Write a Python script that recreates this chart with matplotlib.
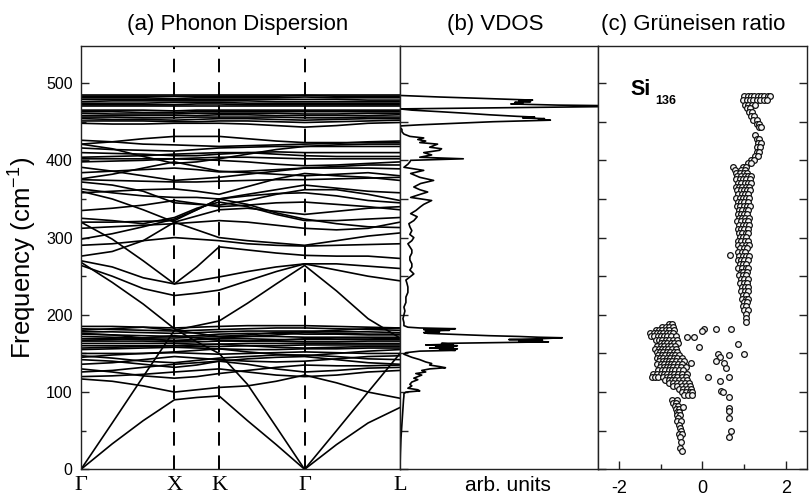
import matplotlib.pyplot as plt
from matplotlib.ticker import MultipleLocator, FixedLocator

plt.rcParams['font.family'] = ['Liberation Sans', 'DejaVu Sans']
plt.rcParams['mathtext.fontset'] = 'custom'
plt.rcParams['mathtext.rm'] = 'Liberation Sans'
plt.rcParams['axes.unicode_minus'] = False

# sample points along the Gamma-X-K-Gamma-L path
kpath = [0, 0.098, 0.195, 0.293, 0.363, 0.433, 0.522, 0.612, 0.701, 0.801, 0.900, 1.0]
sym_pos = [0, 0.293, 0.433, 0.701, 1.0]
sym_labels = ['Γ', 'X', 'K', 'Γ', 'L']

# phonon branches (cm-1) at each kpath point
acoustic = [
    [0, 33, 63, 90, 93, 95, 63, 32, 0, 32, 60, 80],
    [0, 60, 120, 180, 186, 192, 215, 240, 264, 231, 195, 170],
    [268, 242, 214, 182, 165, 150, 110, 55, 0, 50, 100, 150],
]
low_optic = [
    [117, 114, 108, 100, 103, 106, 108, 114, 122, 112, 100, 92],
    [120, 121, 123, 126, 128, 130, 126, 122, 120, 122, 126, 128],
    [126, 128, 132, 136, 138, 140, 136, 130, 126, 128, 131, 132],
    [130, 126, 121, 118, 120, 124, 128, 132, 135, 134, 134, 135],
    [142, 140, 136, 132, 135, 140, 143, 145, 146, 142, 138, 136],
    [147, 144, 140, 138, 141, 144, 146, 148, 148, 146, 143, 142],
    [150, 150, 150, 151, 150, 149, 150, 151, 152, 151, 150, 150],
    [145, 148, 150, 152, 154, 156, 152, 149, 147, 150, 153, 155],
    [136, 138, 142, 146, 144, 142, 140, 139, 140, 143, 146, 147],
]
dense_low = [
    [185, 185, 184, 183, 184, 185, 186, 186, 186, 185, 184, 183],
    [182, 181, 180, 179, 180, 181, 182, 183, 183, 182, 181, 180],
    [178, 178, 177, 176, 177, 178, 179, 179, 179, 178, 178, 177],
    [175, 174, 173, 172, 173, 175, 176, 176, 175, 175, 174, 174],
    [172, 171, 170, 170, 171, 172, 172, 172, 171, 171, 171, 171],
    [169, 169, 168, 167, 168, 169, 169, 168, 168, 168, 168, 168],
    [166, 166, 166, 165, 165, 166, 166, 166, 165, 165, 166, 166],
    [163, 163, 163, 163, 162, 162, 163, 163, 163, 163, 163, 163],
    [160, 160, 160, 160, 159, 159, 160, 160, 161, 161, 161, 161],
    [157, 158, 159, 160, 161, 162, 160, 158, 157, 158, 159, 159],
    [176, 174, 170, 166, 168, 170, 172, 174, 177, 176, 175, 175],
    [180, 182, 184, 180, 176, 172, 174, 177, 178, 180, 182, 183],
    [155, 156, 157, 158, 157, 156, 155, 155, 156, 156, 157, 157],
    [167, 168, 170, 173, 170, 167, 166, 167, 169, 170, 170, 169],
]
mid = [
    [270, 262, 248, 240, 244, 249, 256, 262, 266, 258, 250, 244],
    [264, 250, 234, 225, 228, 232, 244, 256, 266, 266, 263, 260],
    [320, 298, 270, 240, 262, 288, 284, 280, 277, 276, 276, 273],
    [290, 292, 296, 300, 298, 296, 292, 290, 289, 290, 291, 292],
    [276, 282, 296, 320, 310, 300, 296, 293, 290, 296, 302, 306],
]
upper_mid = [
    [298, 305, 314, 324, 336, 350, 343, 332, 324, 318, 314, 313],
    [320, 320, 321, 322, 336, 350, 354, 357, 358, 354, 348, 345],
    [325, 322, 318, 326, 338, 346, 340, 330, 322, 322, 324, 326],
    [360, 350, 336, 320, 328, 336, 338, 334, 330, 334, 338, 340],
    [363, 358, 354, 352, 352, 350, 356, 362, 368, 364, 360, 358],
    [358, 360, 362, 363, 360, 356, 366, 376, 383, 380, 378, 374],
    [372, 368, 360, 345, 343, 342, 348, 356, 362, 362, 356, 348],
    [376, 382, 390, 398, 392, 386, 384, 382, 380, 382, 384, 380],
    [391, 386, 380, 374, 376, 378, 382, 386, 390, 390, 390, 389],
    [398, 399, 400, 402, 401, 400, 398, 395, 393, 394, 396, 398],
    [402, 402, 402, 402, 403, 404, 404, 403, 402, 402, 402, 402],
    [404, 405, 406, 408, 409, 410, 410, 408, 406, 405, 405, 405],
    [410, 409, 408, 406, 406, 408, 410, 411, 410, 410, 410, 410],
    [416, 414, 413, 412, 414, 416, 417, 418, 418, 418, 418, 418],
    [421, 424, 428, 431, 431, 431, 428, 425, 423, 423, 423, 423],
    [421, 415, 405, 396, 398, 402, 408, 414, 418, 420, 421, 421],
    [426, 424, 421, 420, 419, 418, 419, 420, 421, 422, 424, 425],
    [375, 374, 373, 372, 372, 373, 374, 375, 375, 376, 377, 378],
    [335, 338, 342, 348, 344, 340, 342, 345, 346, 343, 340, 336],
    [384, 386, 388, 390, 388, 385, 386, 388, 390, 392, 394, 394],
    [312, 314, 316, 318, 320, 322, 320, 316, 312, 310, 312, 320],
]
dense_high = [
    [448, 447, 447, 448, 448, 448, 447, 445, 443, 445, 448, 449],
    [451, 451, 451, 450, 450, 451, 451, 450, 449, 450, 451, 452],
    [454, 453, 453, 452, 453, 454, 454, 453, 452, 453, 454, 454],
    [456, 456, 455, 455, 456, 456, 456, 456, 455, 455, 456, 456],
    [458, 458, 458, 458, 458, 459, 459, 458, 458, 458, 458, 459],
    [461, 460, 460, 460, 461, 461, 461, 461, 460, 460, 461, 461],
    [463, 463, 462, 462, 463, 463, 463, 463, 463, 463, 463, 463],
    [465, 465, 465, 464, 465, 465, 465, 465, 465, 465, 465, 465],
    [470, 470, 470, 470, 470, 470, 470, 470, 470, 470, 470, 470],
    [472, 472, 472, 472, 473, 473, 472, 472, 472, 472, 472, 472],
    [474, 474, 474, 475, 475, 475, 474, 474, 474, 474, 474, 474],
    [476, 477, 477, 477, 477, 477, 477, 476, 476, 476, 476, 476],
    [479, 479, 479, 479, 479, 479, 479, 479, 479, 479, 478, 478],
    [481, 481, 481, 480, 481, 481, 481, 481, 482, 481, 481, 481],
    [483, 483, 483, 483, 483, 483, 483, 483, 484, 483, 483, 483],
    [485, 485, 485, 485, 485, 485, 485, 485, 485, 485, 485, 485],
]

# vibrational density of states: (frequency, arb. units)
vdos_pts = [
    (0, 0), (20, 0.002), (40, 0.005), (60, 0.01), (75, 0.014), (90, 0.018),
    (95, 0.02), (98, 0.02), (100, 0.03), (101.5, 0.1), (103, 0.09), (105, 0.04),
    (108, 0.06), (110, 0.05), (113, 0.06), (116, 0.09), (118, 0.07), (120, 0.09),
    (122, 0.11), (124, 0.08), (126, 0.13), (128, 0.11), (130, 0.15), (131.5, 0.23),
    (133, 0.2), (135, 0.15), (137, 0.16), (139, 0.13), (142, 0.1), (145, 0.06),
    (147, 0.04), (149, 0.02), (151, 0.03), (153, 0.1), (154, 0.28), (155, 0.2),
    (156, 0.29), (157, 0.15), (158, 0.27), (159, 0.18), (160, 0.29), (161, 0.13),
    (162, 0.27), (163, 0.21), (164, 0.5), (165, 0.75), (166, 0.6), (167, 0.72),
    (168, 0.55), (169, 0.7), (170.3, 0.82), (171, 0.7), (172, 0.6), (173, 0.45),
    (174, 0.35), (175, 0.25), (176, 0.14), (177, 0.12), (178, 0.2), (179, 0.13),
    (180, 0.25), (181, 0.12), (182, 0.28), (183, 0.1), (184, 0.04), (186, 0.02),
    (190, 0.02), (195, 0.015), (200, 0.02), (205, 0.025), (210, 0.02), (216, 0.03),
    (223, 0.03), (229, 0.04), (236, 0.04), (241, 0.035), (245, 0.03), (249, 0.05),
    (253, 0.07), (258, 0.05), (262, 0.06), (266, 0.06), (271, 0.05), (275, 0.05),
    (280, 0.06), (284, 0.06), (288, 0.05), (292, 0.04), (296, 0.06), (300, 0.07),
    (304, 0.05), (309, 0.06), (314, 0.05), (318, 0.045), (322, 0.07), (327, 0.087),
    (331, 0.054), (335, 0.08), (340, 0.104), (343, 0.12), (348, 0.16), (352, 0.054),
    (355, 0.09), (359, 0.14), (362, 0.1), (365.5, 0.07), (370, 0.104), (374, 0.17),
    (378, 0.1), (383, 0.054), (387, 0.12), (391, 0.02), (395, 0.04), (398, 0.05),
    (400, 0.054), (402, 0.32), (404, 0.1), (407, 0.16), (410, 0.12), (413, 0.2),
    (415, 0.21), (417, 0.15), (419, 0.17), (421, 0.19), (423, 0.1), (425, 0.13),
    (427, 0.09), (429, 0.12), (431, 0.05), (434, 0.02), (437, 0.01), (440, 0.01),
    (443, 0.0), (444.6, 0.005), (446, 0.1), (448, 0.28), (450, 0.47), (452, 0.76),
    (453, 0.7), (454, 0.73), (455, 0.62), (456, 0.68), (457, 0.59), (459, 0.45),
    (461, 0.33), (463, 0.2), (465, 0.06), (466.6, 0.0), (468, 0.5), (469.5, 1.0),
    (470.2, 1.25), (471.5, 0.8), (473, 0.56), (474, 0.62), (475, 0.58), (476, 0.66),
    (477, 0.6), (478, 0.67), (479, 0.56), (480.5, 0.38), (482, 0.2), (484, 0.0),
    (490, 0.0), (548, 0.0),
]

# Grueneisen ratio per mode: rows of (frequency, [gamma values])
gamma_upper = [
    (483, [1.00, 1.08, 1.16, 1.24, 1.32, 1.40, 1.48, 1.56, 1.62]),
    (478, [0.98, 1.06, 1.14, 1.22, 1.30, 1.38, 1.46, 1.54]),
    (472, [1.02, 1.10, 1.18, 1.26]),
    (468, [1.06, 1.14]),
    (463, [1.12, 1.18]),
    (458, [1.16, 1.24]),
    (452, [1.22, 1.30]),
    (447, [1.30, 1.36]),
    (443, [1.36, 1.40]),
    (433, [1.26]),
    (428, [1.30, 1.36]),
    (423, [1.34, 1.40]),
    (417, [1.30, 1.38]),
    (411, [1.30, 1.36]),
    (405, [1.26, 1.34]),
    (400, [1.16, 1.24]),
    (396, [1.08, 1.16]),
    (392, [0.74, 0.97, 1.05]),
    (388, [0.78, 0.91, 1.01]),
    (384, [0.81, 0.89, 0.99, 1.07]),
    (380, [0.83, 0.93, 1.01, 1.09, 1.17]),
    (376, [0.80, 0.89, 0.97, 1.05, 1.13]),
    (371, [0.85, 0.93, 1.02, 1.10, 1.15]),
    (366, [0.79, 0.87, 0.95, 1.05, 1.11]),
    (361, [0.83, 0.91, 0.99, 1.07, 1.14]),
    (356, [0.85, 0.94, 1.01, 1.09]),
    (351, [0.81, 0.89, 0.97, 1.03, 1.12]),
    (346, [0.85, 0.91, 1.00, 1.08]),
    (341, [0.82, 0.90, 0.99, 1.06, 1.13]),
    (336, [0.87, 0.95, 1.03, 1.10]),
    (331, [0.84, 0.93, 1.00, 1.07]),
    (326, [0.87, 0.94, 1.02, 1.11]),
    (321, [0.83, 0.92, 1.01, 1.08]),
    (316, [0.88, 0.97, 1.05, 1.12]),
    (311, [0.85, 0.93, 1.00, 1.09]),
    (306, [0.87, 0.95, 1.03, 1.10]),
    (301, [0.89, 0.97, 1.05]),
    (296, [0.84, 0.92, 1.01, 1.08]),
    (291, [0.86, 0.95, 1.03, 1.11]),
    (286, [0.90, 0.99, 1.06]),
    (281, [0.85, 0.94, 1.02]),
    (276, [0.88, 0.97, 1.05, 1.12]),
    (271, [0.84, 0.92, 1.00, 1.09]),
    (266, [0.89, 0.96, 1.04]),
    (261, [0.86, 0.95, 1.03, 1.10]),
    (256, [0.91, 0.98, 1.07]),
    (251, [0.88, 0.97, 1.04]),
    (246, [0.93, 1.00, 1.08]),
    (241, [0.90, 0.99, 1.06]),
    (236, [0.95, 1.02, 1.10]),
    (231, [0.92, 1.01, 1.08]),
    (226, [0.97, 1.05]),
    (221, [0.94, 1.03, 1.10]),
    (216, [0.99, 1.06]),
    (211, [0.96, 1.04]),
    (206, [1.00, 1.08]),
    (201, [1.03]),
    (196, [1.05]),
    (191, [1.05]),
]
gamma_lower = [
    (188, [-0.80, -0.72]),
    (184, [-0.96, -0.88, -0.79, -0.71]),
    (180, [-1.12, -1.03, -0.96, -0.87, -0.80, -0.68]),
    (176, [-1.26, -1.17, -1.10, -1.01, -0.94, -0.85, -0.78, -0.70]),
    (172, [-1.23, -1.16, -1.07, -1.00, -0.91, -0.84, -0.75, -0.64]),
    (168, [-1.12, -1.03, -0.96, -0.87, -0.80, -0.71, -0.62]),
    (164, [-1.00, -0.91, -0.84, -0.75, -0.68, -0.58]),
    (160, [-1.08, -0.99, -0.92, -0.83, -0.76, -0.66]),
    (156, [-1.14, -1.05, -0.98, -0.89, -0.82, -0.73, -0.64]),
    (152, [-1.10, -1.01, -0.94, -0.85, -0.78, -0.69, -0.60]),
    (148, [-1.06, -0.97, -0.90, -0.81, -0.74, -0.65, -0.56]),
    (144, [-1.10, -1.01, -0.94, -0.85, -0.78, -0.69, -0.60, -0.50]),
    (140, [-1.04, -0.95, -0.88, -0.79, -0.72, -0.63, -0.54, -0.44]),
    (136, [-1.08, -0.99, -0.92, -0.83, -0.76, -0.67, -0.58, -0.48]),
    (132, [-1.02, -0.93, -0.86, -0.77, -0.70, -0.61, -0.52, -0.40]),
    (128, [-1.06, -0.97, -0.90, -0.81, -0.74, -0.65, -0.56, -0.46]),
    (124, [-1.18, -1.10, -1.00, -0.91, -0.84, -0.75, -0.68, -0.58, -0.48, -0.38]),
    (120, [-1.22, -1.14, -1.06, -0.94, -0.85, -0.78, -0.69, -0.60, -0.50, -0.40]),
    (116, [-0.90, -0.81, -0.74, -0.65, -0.56, -0.46, -0.36]),
    (112, [-0.80, -0.71, -0.62, -0.52, -0.42, -0.32]),
    (108, [-0.70, -0.60, -0.50, -0.40, -0.30]),
    (104, [-0.56, -0.46, -0.36, -0.28]),
    (100, [-0.50, -0.40, -0.30, -0.24]),
    (96, [-0.44, -0.34, -0.26]),
    (90, [-0.72, -0.62]),
    (86, [-0.70, -0.64]),
    (82, [-0.66, -0.58]),
    (78, [-0.64, -0.56]),
    (74, [-0.62, -0.56]),
    (70, [-0.60, -0.54]),
    (66, [-0.58]),
    (62, [-0.60, -0.52]),
    (58, [-0.56]),
    (54, [-0.54]),
    (50, [-0.52]),
    (46, [-0.56, -0.50]),
    (42, [-0.54]),
    (36, [-0.52]),
    (28, [-0.54]),
    (24, [-0.48]),
]
# isolated modes: (gamma, frequency)
gamma_sparse = [
    (-0.36, 171), (-0.20, 171), (0.04, 182), (0.00, 179), (0.32, 182), (0.69, 182),
    (-0.08, 158), (0.84, 162), (1.00, 149), (0.37, 149), (0.43, 145), (0.64, 148),
    (0.32, 140), (0.52, 137), (0.56, 131), (0.12, 120), (0.41, 114), (0.64, 120),
    (0.44, 102), (0.50, 100), (0.64, 94), (0.64, 79), (0.64, 75), (0.64, 66),
    (0.68, 49), (0.64, 42), (-0.28, 138), (-0.46, 81), (0.66, 277),
]

YMAX = 548
edge = '#222222'

fig = plt.figure(figsize=(8.09, 4.97), dpi=100)
ax_a = fig.add_axes([0.1001, 0.0557, 0.3943, 0.8517])
ax_b = fig.add_axes([0.4944, 0.0557, 0.2447, 0.8517])
ax_c = fig.add_axes([0.7392, 0.0557, 0.2583, 0.8517])

for ax in (ax_a, ax_b, ax_c):
    ax.set_ylim(0, YMAX)
    for sp in ax.spines.values():
        sp.set_color(edge)
        sp.set_linewidth(1.0)
    ax.tick_params(which='both', direction='in', color=edge, width=1.0)

# (a) dispersion
for group in (acoustic, low_optic, dense_low, mid, upper_mid, dense_high):
    for band in group:
        ax_a.plot(kpath, band, color='black', lw=1.2)
for p in sym_pos[1:4]:
    ax_a.axvline(p, color='black', lw=1.4, ls=(0, (7, 5)))
ax_a.set_xlim(0, 1)
ax_a.set_xticks(sym_pos)
ax_a.set_xticklabels(sym_labels, fontfamily='Liberation Serif', fontsize=16)
ax_a.tick_params(axis='x', length=0, pad=5)
ax_a.yaxis.set_major_locator(MultipleLocator(100))
ax_a.yaxis.set_minor_locator(MultipleLocator(50))
ax_a.tick_params(axis='y', which='major', length=6, labelsize=11.5, pad=6)
ax_a.tick_params(axis='y', which='minor', length=3.5)
ax_a.set_ylabel('Frequency (cm$^{-1}$)', fontsize=18.5, labelpad=6)

# (b) VDOS
vdos_freq = [p[0] for p in vdos_pts]
vdos_val = [p[1] for p in vdos_pts]
ax_b.plot(vdos_val, vdos_freq, color='black', lw=1.2)
ax_b.set_xlim(0, 1)
ax_b.set_xticks([])
ax_b.yaxis.set_major_locator(MultipleLocator(50))
ax_b.tick_params(axis='y', length=6, labelleft=False)
ax_b.annotate('arb. units', xy=(0.545, 0), xycoords='axes fraction',
              xytext=(0, -5), textcoords='offset points',
              ha='center', va='top', fontsize=15)

# (c) Grueneisen ratio
gx, gy = [], []
for f, gs in gamma_upper + gamma_lower:
    for g in gs:
        gx.append(g)
        gy.append(f)
for g, f in gamma_sparse:
    gx.append(g)
    gy.append(f)
ax_c.scatter(gx, gy, s=17, facecolor='#f4f4f4', edgecolor='#111111', linewidths=0.9, zorder=3)
ax_c.set_xlim(-2.5, 2.5)
ax_c.xaxis.set_major_locator(FixedLocator([-2, 0, 2]))
ax_c.xaxis.set_minor_locator(FixedLocator([-1, 1]))
ax_c.tick_params(axis='x', which='major', length=6, labelsize=13, pad=8)
ax_c.tick_params(axis='x', which='minor', length=3.5)
ax_c.yaxis.set_major_locator(MultipleLocator(50))
ax_c.tick_params(axis='y', length=6, left=True, right=True, labelleft=False)
ax_c.text(-1.72, 485, 'Si', fontsize=15.5, fontweight='bold', va='baseline')
ax_c.text(-1.12, 473, '136', fontsize=9, fontweight='bold', va='baseline')

# panel headings
for ax, label, xf in ((ax_a, '(a) Phonon Dispersion', 0.49),
                      (ax_b, '(b) VDOS', 0.48),
                      (ax_c, '(c) Grüneisen ratio', 0.457)):
    ax.annotate(label, xy=(xf, 1), xycoords='axes fraction',
                xytext=(0, 11.5), textcoords='offset points',
                ha='center', va='baseline', fontsize=16)

fig.savefig('out.png', dpi=100)
